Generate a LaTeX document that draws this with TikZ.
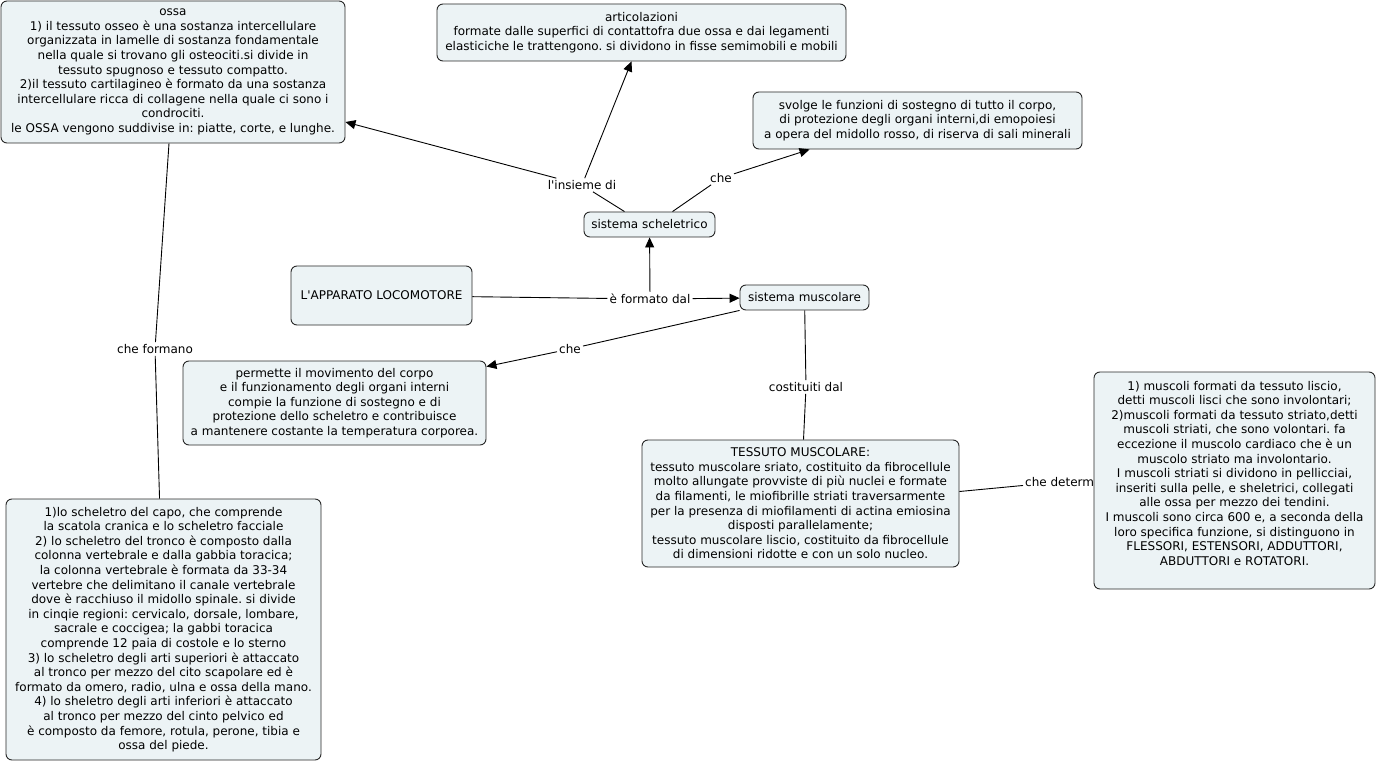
\documentclass[tikz,border=0pt]{standalone}
\usepackage{fontspec}
\setmainfont{DejaVu Sans}[Ligatures=TeXOff]
\usetikzlibrary{arrows.meta}
\definecolor{boxfill}{RGB}{236,243,245}
\definecolor{boxline}{RGB}{40,40,40}
\tikzset{
  cbox/.style={draw=boxline, fill=boxfill, rounded corners=6pt, line width=0.9pt,
    align=center, inner sep=0pt, font=\fontsize{12}{14.6}\selectfont},
  lbl/.style={inner sep=2pt, font=\fontsize{12}{14.6}\selectfont},
  conn/.style={draw=black, line width=0.9pt},
  arr/.style={conn, -{Triangle[length=10pt,width=9pt]}}
}
\frenchspacing
\begin{document}
\begin{tikzpicture}[x=1pt,y=-1pt]
\useasboundingbox (0,0) rectangle (1377,762);
\fill[white] (0,0) rectangle (1377,762);
% boxes
\node[cbox, minimum width=344pt, minimum height=142pt] (ossa) at (173,72) {ossa\\
1) il tessuto osseo è una sostanza intercellulare\\
organizzata in lamelle di sostanza fondamentale\\
nella quale si trovano gli osteociti.si divide in\\
tessuto spugnoso e tessuto compatto.\\
2)il tessuto cartilagineo è formato da una sostanza\\
intercellulare ricca di collagene nella quale ci sono i\\
condrociti.\\
le OSSA vengono suddivise in: piatte, corte, e lunghe.};
\node[cbox, minimum width=409pt, minimum height=57pt] (art) at (641.5,32.5) {articolazioni\\
formate dalle superfici di contattofra due ossa e dai legamenti\\
elasticiche le trattengono. si dividono in fisse semimobili e mobili};
\node[cbox, minimum width=329pt, minimum height=57pt] (svo) at (917.5,120.5) {svolge le funzioni di sostegno di tutto il corpo,\\
di protezione degli organi interni,di emopoiesi\\
a opera del midollo rosso, di riserva di sali minerali};
\node[cbox, minimum width=131pt, minimum height=25pt] (scs) at (649.5,224.5) {sistema scheletrico};
\node[cbox, minimum width=181pt, minimum height=59pt] (app) at (381.5,295.5) {L'APPARATO LOCOMOTORE};
\node[cbox, minimum width=129pt, minimum height=25pt] (smu) at (804.5,297.5) {sistema muscolare};
\node[cbox, minimum width=303pt, minimum height=84pt] (per) at (334.5,403) {permette il movimento del corpo\\
e il funzionamento degli organi interni\\
compie la funzione di sostegno e di\\
protezione dello scheletro e contribuisce\\
a mantenere costante la temperatura corporea.};
\node[cbox, minimum width=317pt, minimum height=127pt] (tes) at (800.5,503.5) {TESSUTO MUSCOLARE:\\
tessuto muscolare sriato, costituito da fibrocellule\\
molto allungate provviste di più nuclei e formate\\
da filamenti, le miofibrille striati traversarmente\\
per la presenza di miofilamenti di actina emiosina\\
disposti parallelamente;\\
tessuto muscolare liscio, costituito da fibrocellule\\
di dimensioni ridotte e con un solo nucleo.};
\node[cbox, minimum width=315pt, minimum height=261pt] (bl) at (163.5,629.5) {1)lo scheletro del capo, che comprende\\
la scatola cranica e lo scheletro facciale\\
2) lo scheletro del tronco è composto dalla\\
colonna vertebrale e dalla gabbia toracica;\\
la colonna vertebrale è formata da 33-34\\
vertebre che delimitano il canale vertebrale\\
dove è racchiuso il midollo spinale. si divide\\
in cinqie regioni: cervicalo, dorsale, lombare,\\
sacrale e coccigea; la gabbi toracica\\
comprende 12 paia di costole e lo sterno\\
3) lo scheletro degli arti superiori è attaccato\\
al tronco per mezzo del cito scapolare ed è\\
formato da omero, radio, ulna e ossa della mano.\\
4) lo sheletro degli arti inferiori è attaccato\\
al tronco per mezzo del cinto pelvico ed\\
è composto da femore, rotula, perone, tibia e\\
ossa del piede.};
% labels
\node[lbl] (lins) at (582,185) {l'insieme di};
\node[lbl] (che1) at (721,178) {che};
\node[lbl] (efd) at (650,299) {è formato dal};
\node[lbl] (che2) at (570,349) {che};
\node[lbl] (cost) at (806,387) {costituiti dal};
\node[lbl] (chef) at (155,349) {che formano};
\node[lbl, anchor=west] (ched) at (1023,482) {che determ};
% right box drawn over the clipped label
\node[cbox, minimum width=281pt, minimum height=217pt] (rbx) at (1234.5,480.5) {1) muscoli formati da tessuto liscio,\\
detti muscoli lisci che sono involontari;\\
2)muscoli formati da tessuto striato,detti\\
muscoli striati, che sono volontari. fa\\
eccezione il muscolo cardiaco che è un\\
muscolo striato ma involontario.\\
I muscoli striati si dividono in pellicciai,\\
inseriti sulla pelle, e sheletrici, collegati\\
alle ossa per mezzo dei tendini.\\
I muscoli sono circa 600 e, a seconda della\\
loro specifica funzione, si distinguono in\\
FLESSORI, ESTENSORI, ADDUTTORI,\\
ABDUTTORI e ROTATORI.\\
\mbox{}};
% connectors
\draw[conn] ([xshift=-25pt]scs.north) -- (lins);
\draw[arr] (lins) -- ([yshift=-50pt]ossa.east);
\draw[arr] (lins) -- ([xshift=-10pt]art.south);
\draw[conn] ([xshift=23pt]scs.north) -- (che1);
\draw[arr] (che1) -- ([xshift=57pt]svo.south west);
\draw[conn] (app) -- (efd);
\draw[arr] (efd) -- (smu);
\draw[arr] (efd) -- (scs);
\draw[conn] (smu.south west) -- (che2);
\draw[arr] (che2) -- ([yshift=-6pt]per.north east);
\draw[conn] (smu) -- (cost);
\draw[conn] (cost) -- (tes);
\draw[conn] ([xshift=-4pt]ossa.south) -- (chef);
\draw[conn] (chef) -- (bl);
\draw[conn] ([yshift=12pt]tes.east) -- (ched);
\end{tikzpicture}
\end{document}
